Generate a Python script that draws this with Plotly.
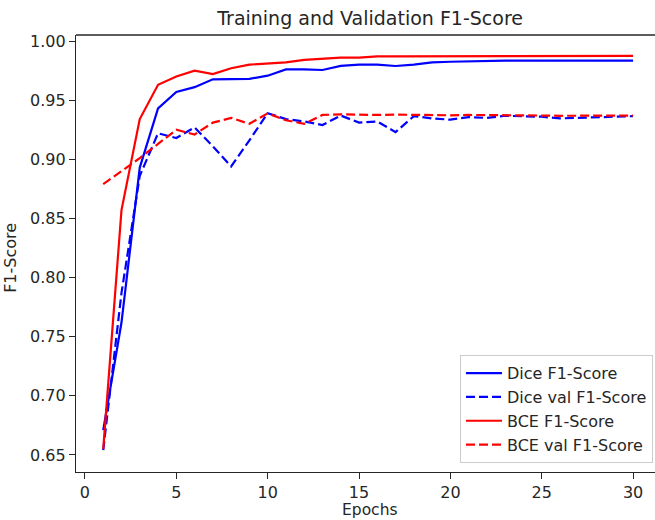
import plotly.graph_objects as go

epochs = list(range(1, 31))

dice_train = [0.671, 0.762, 0.893, 0.943, 0.957, 0.961, 0.9676, 0.9676, 0.968, 0.9707,
              0.976, 0.976, 0.9755, 0.979, 0.980, 0.980, 0.9789, 0.980, 0.982, 0.9825,
              0.983, 0.9834, 0.9834, 0.9834, 0.9834, 0.9834, 0.9834, 0.9834, 0.9834, 0.9834]
dice_val = [0.654, 0.787, 0.886, 0.922, 0.918, 0.927, 0.911, 0.894, 0.916, 0.939,
            0.934, 0.932, 0.929, 0.937, 0.931, 0.932, 0.923, 0.9365, 0.9346, 0.9335,
            0.9357, 0.935, 0.9368, 0.9365, 0.936, 0.9346, 0.935, 0.9357, 0.9357, 0.9365]
bce_train = [0.655, 0.857, 0.934, 0.963, 0.970, 0.975, 0.972, 0.977, 0.980, 0.981,
             0.982, 0.984, 0.985, 0.986, 0.986, 0.987, 0.987, 0.987, 0.987, 0.987,
             0.987, 0.9875, 0.9875, 0.9875, 0.9875, 0.9875, 0.9875, 0.9875, 0.9875, 0.9875]
bce_val = [0.879, 0.890, 0.901, 0.913, 0.925, 0.921, 0.931, 0.935, 0.930, 0.9388,
           0.933, 0.930, 0.9375, 0.938, 0.9375, 0.9375, 0.9378, 0.9375, 0.9375, 0.9372,
           0.9375, 0.9375, 0.937, 0.9372, 0.937, 0.9368, 0.937, 0.937, 0.937, 0.937]

x_ticks = [0, 5, 10, 15, 20, 25, 30]
y_ticks = [0.65, 0.70, 0.75, 0.80, 0.85, 0.90, 0.95, 1.00]

FONT = "DejaVu Sans"
INK = "#262626"
DASH = "9px,4px"
LW = 2.2

fig = go.Figure()
fig.add_trace(go.Scatter(x=epochs, y=dice_train, mode="lines", name="Dice F1-Score",
                         line=dict(color="#0000ff", width=LW)))
fig.add_trace(go.Scatter(x=epochs, y=dice_val, mode="lines", name="Dice val F1-Score",
                         line=dict(color="#0000ff", width=LW, dash=DASH)))
fig.add_trace(go.Scatter(x=epochs, y=bce_train, mode="lines", name="BCE F1-Score",
                         line=dict(color="#ff0000", width=LW)))
fig.add_trace(go.Scatter(x=epochs, y=bce_val, mode="lines", name="BCE val F1-Score",
                         line=dict(color="#ff0000", width=LW, dash=DASH)))

fig.update_layout(
    width=655, height=520,
    margin=dict(l=76, r=0, t=35, b=48),
    paper_bgcolor="white", plot_bgcolor="white",
    font=dict(family=FONT, size=16, color=INK),
    showlegend=True,
    title=dict(text="Training and Validation F1-Score", x=0.508, xref="paper",
               xanchor="center", y=1 - 18 / 520, yanchor="middle",
               font=dict(family=FONT, size=19, color=INK)),
    legend=dict(x=0.9965, y=0.02, xanchor="right", yanchor="bottom",
                bgcolor="rgba(255,255,255,0.85)", bordercolor="#cccccc", borderwidth=1,
                font=dict(family=FONT, size=16, color=INK), itemwidth=36,
                tracegroupgap=0),
    xaxis=dict(range=[-0.49, 31.2], tickvals=x_ticks, ticktext=[str(v) for v in x_ticks],
               showgrid=False, zeroline=False, showline=True, linecolor=INK, linewidth=1.3,
               ticks="outside", ticklen=6, tickwidth=1.3, tickcolor=INK,
               tickfont=dict(family=FONT, size=16, color=INK)),
    yaxis=dict(range=[0.6356, 1.0051], tickvals=y_ticks,
               ticktext=[f"{v:.2f}" for v in y_ticks],
               showgrid=False, zeroline=False, showline=True, linecolor=INK, linewidth=1.3,
               ticks="outside", ticklen=6, tickwidth=1.3, tickcolor=INK,
               tickfont=dict(family=FONT, size=16, color=INK)),
    shapes=[dict(type="line", xref="paper", yref="paper", x0=0, x1=1, y0=1, y1=1,
                 line=dict(color=INK, width=1.3))],
    annotations=[
        dict(text="Epochs", xref="paper", yref="paper", x=0.508, y=-0.061,
             xanchor="center", yanchor="top", showarrow=False,
             font=dict(family=FONT, size=15.5, color=INK)),
        dict(text="F1-Score", xref="paper", yref="paper", x=(11 - 76) / 579, y=0.49,
             xanchor="center", yanchor="middle", textangle=-90, showarrow=False,
             font=dict(family=FONT, size=16, color=INK)),
    ],
)

fig.write_html(
    "out.html",
    config={"displayModeBar": False},
    post_script="document.body.style.margin='0';document.body.style.padding='0';"
                "document.body.style.overflow='hidden';",
)
